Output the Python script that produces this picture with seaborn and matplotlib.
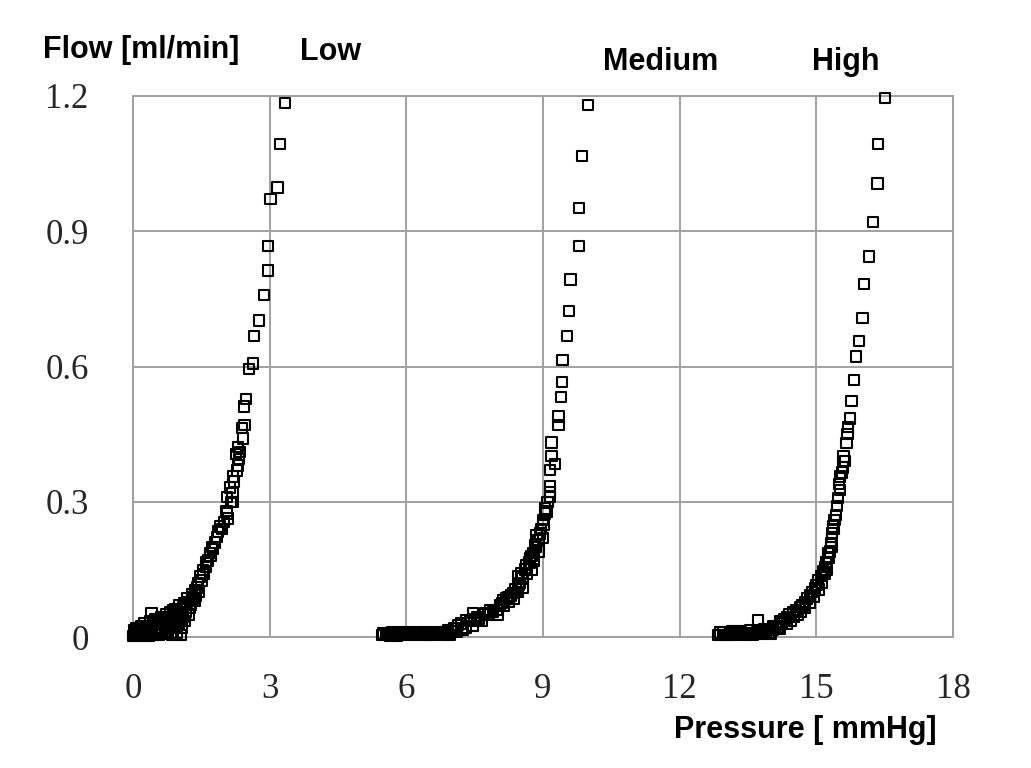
import matplotlib
matplotlib.use("Agg")
import matplotlib.pyplot as plt
import seaborn as sns
import pandas as pd

# ---- data ----
low_x = [0.02, 0.05, 0.08, 0.12, 0.15, 0.18, 0.22, 0.25, 0.28, 0.32, 0.35, 0.38, 0.42, 0.45,
         0.48, 0.52, 0.55, 0.58, 0.62, 0.65, 0.68, 0.72, 0.75, 0.78, 0.82, 0.85, 0.88, 0.92,
         0.95, 0.98, 1.02, 1.05, 1.08, 1.12, 1.15, 1.20, 1.25, 1.30, 1.35, 1.40, 1.45, 1.50,
         1.55, 1.60, 1.65, 1.70, 1.75, 1.80, 1.95, 2.00, 2.05, 2.15, 2.18, 2.22, 2.30, 2.33,
         2.42, 2.45, 0.41, 0.88, 1.10, 1.18, 1.29, 1.36, 1.43, 1.47, 1.54, 1.60, 1.69, 1.73,
         1.84, 1.87, 1.91, 2.09, 2.06, 2.20, 2.07, 2.13, 2.20, 2.28, 2.26, 2.35, 2.31, 2.39,
         2.44, 2.48, 2.55, 2.63, 2.66, 2.77, 2.88, 2.96, 2.96, 3.02, 3.17, 3.23, 3.34,
         0.00, 0.03, 0.06, 0.10, 0.14, 0.17, 0.20, 0.24, 0.27, 0.30, 0.34, 0.37, 0.40, 0.44,
         0.47, 0.50, 0.54, 0.57, 0.60, 0.64, 0.67, 0.70, 0.74, 0.77, 0.80, 0.84, 0.87, 0.90,
         0.94, 0.97, 1.00, 1.04, 1.07, 1.10, 1.14, 1.17, 1.22, 1.27, 1.32, 1.38]
low_y = [0.005, 0.012, 0.020, 0.008, 0.015, 0.025, 0.010, 0.030, 0.018, 0.005, 0.022, 0.035,
         0.012, 0.028, 0.040, 0.020, 0.008, 0.032, 0.045, 0.015, 0.030, 0.050, 0.020, 0.038,
         0.055, 0.010, 0.042, 0.062, 0.025, 0.050, 0.070, 0.005, 0.040, 0.075, 0.055, 0.085,
         0.065, 0.095, 0.080, 0.110, 0.100, 0.125, 0.140, 0.155, 0.170, 0.180, 0.195, 0.210,
         0.240, 0.255, 0.280, 0.300, 0.320, 0.345, 0.380, 0.395, 0.440, 0.470, 0.053, 0.060,
         0.067, 0.078, 0.089, 0.104, 0.119, 0.134, 0.149, 0.167, 0.186, 0.200, 0.222, 0.234,
         0.245, 0.263, 0.274, 0.300, 0.310, 0.332, 0.356, 0.369, 0.406, 0.411, 0.422, 0.464,
         0.511, 0.528, 0.594, 0.607, 0.668, 0.702, 0.758, 0.813, 0.867, 0.972, 0.997, 1.094,
         1.184,
         0.002, 0.015, 0.004, 0.018, 0.003, 0.010, 0.020, 0.006, 0.012, 0.025, 0.003, 0.015,
         0.008, 0.035, 0.005, 0.012, 0.030, 0.004, 0.020, 0.010, 0.040, 0.006, 0.030, 0.012,
         0.025, 0.045, 0.004, 0.020, 0.035, 0.010, 0.030, 0.050, 0.020, 0.045, 0.035, 0.065,
         0.050, 0.072, 0.085, 0.092]

med_x = [5.47, 5.55, 5.65, 5.75, 5.85, 5.95, 6.05, 6.15, 6.25, 6.35, 6.45, 6.55, 6.65, 6.75,
         6.85, 7.00, 7.05, 7.20, 7.25, 7.40, 7.55, 7.60, 7.80, 7.90, 8.05, 8.10, 8.20, 8.30,
         8.40, 8.50, 8.55, 8.60, 8.70, 8.75, 8.85, 8.90, 8.95, 9.00, 9.05, 9.10, 6.92, 7.14,
         7.32, 7.47, 7.73, 7.98, 8.13, 8.24, 8.35, 8.46, 8.46, 8.53, 8.64, 8.71, 8.79, 8.82,
         8.86, 8.93, 9.01, 9.04, 9.08, 9.15, 9.15, 9.15, 9.15, 9.26, 9.19, 9.19, 9.34, 9.34,
         9.39, 9.42, 9.43, 9.53, 9.57, 9.60, 9.79, 9.79, 9.86, 9.99,
         5.50, 5.60, 5.70, 5.80, 5.90, 6.00, 6.10, 6.20, 6.30, 6.40, 6.50, 6.60, 6.70, 6.80,
         6.90, 6.95, 7.10, 7.30, 7.45, 7.50, 7.65, 7.70, 7.85, 8.00, 8.15, 8.25, 8.35, 8.45,
         8.55, 8.65, 8.75, 8.80, 8.90, 9.00]
med_y = [0.004, 0.009, 0.003, 0.008, 0.005, 0.010, 0.004, 0.008, 0.006, 0.010, 0.004, 0.009,
         0.006, 0.011, 0.005, 0.012, 0.020, 0.030, 0.015, 0.035, 0.045, 0.040, 0.050, 0.055,
         0.070, 0.075, 0.085, 0.092, 0.105, 0.120, 0.130, 0.150, 0.165, 0.180, 0.200, 0.215,
         0.240, 0.260, 0.285, 0.300, 0.016, 0.027, 0.038, 0.053, 0.053, 0.060, 0.082, 0.089,
         0.097, 0.115, 0.134, 0.141, 0.160, 0.175, 0.186, 0.204, 0.226, 0.230, 0.248, 0.274,
         0.278, 0.310, 0.322, 0.335, 0.370, 0.384, 0.402, 0.431, 0.470, 0.489, 0.532, 0.566,
         0.614, 0.668, 0.723, 0.793, 0.867, 0.952, 1.067, 1.180,
         0.008, 0.005, 0.010, 0.003, 0.009, 0.006, 0.011, 0.004, 0.007, 0.005, 0.010, 0.004,
         0.008, 0.010, 0.007, 0.004, 0.012, 0.020, 0.025, 0.040, 0.035, 0.050, 0.060, 0.050,
         0.070, 0.078, 0.085, 0.100, 0.110, 0.140, 0.150, 0.170, 0.190, 0.220]

high_x = [12.85, 12.95, 13.05, 13.15, 13.25, 13.35, 13.45, 13.55, 13.65, 13.75, 13.85, 13.95,
          14.10, 14.25, 14.30, 14.40, 14.55, 14.70, 14.80, 14.90, 15.00, 15.10, 15.20, 15.25,
          15.30, 15.35, 15.40, 15.45, 15.50, 15.56, 15.60, 15.68, 13.72, 14.05, 14.20, 14.35,
          14.49, 14.64, 14.75, 14.86, 14.97, 15.04, 15.15, 15.21, 15.26, 15.32, 15.34, 15.37,
          15.43, 15.48, 15.52, 15.52, 15.59, 15.63, 15.66, 15.70, 15.74, 15.77, 15.83, 15.87,
          15.94, 16.01, 16.04, 16.15, 16.24, 16.34, 16.36, 16.51,
          12.90, 13.00, 13.10, 13.20, 13.30, 13.40, 13.50, 13.60, 13.70, 13.80, 13.90, 14.00,
          14.05, 14.15, 14.20, 14.35, 14.45, 14.50, 14.60, 14.65, 14.75, 14.85, 14.95, 15.05,
          15.12, 15.18, 15.22, 15.28, 15.33, 15.38]
high_y = [0.004, 0.010, 0.005, 0.012, 0.006, 0.010, 0.004, 0.015, 0.008, 0.012, 0.018, 0.010,
          0.025, 0.030, 0.040, 0.050, 0.060, 0.070, 0.085, 0.100, 0.115, 0.135, 0.155, 0.175,
          0.190, 0.230, 0.260, 0.290, 0.340, 0.365, 0.400, 0.450, 0.038, 0.023, 0.034, 0.045,
          0.056, 0.067, 0.078, 0.093, 0.108, 0.126, 0.145, 0.167, 0.186, 0.208, 0.222, 0.245,
          0.271, 0.308, 0.326, 0.356, 0.376, 0.391, 0.430, 0.466, 0.485, 0.524, 0.570, 0.622,
          0.657, 0.707, 0.783, 0.844, 0.920, 1.006, 1.094, 1.195,
          0.010, 0.004, 0.009, 0.005, 0.012, 0.006, 0.008, 0.005, 0.010, 0.006, 0.012, 0.008,
          0.015, 0.020, 0.018, 0.030, 0.035, 0.045, 0.050, 0.055, 0.065, 0.075, 0.090, 0.105,
          0.120, 0.140, 0.150, 0.175, 0.200, 0.240]

x_ticks = [0, 3, 6, 9, 12, 15, 18]
y_ticks = [0, 0.3, 0.6, 0.9, 1.2]
y_tick_labels = ["0", "0.3", "0.6", "0.9", "1.2"]
series_labels = ["Low", "Medium", "High"]
y_title = "Flow [ml/min]"
x_title = "Pressure [ mmHg]"

df = pd.DataFrame({
    "pressure": low_x + med_x + high_x,
    "flow": low_y + med_y + high_y,
    "level": ["Low"] * len(low_x) + ["Medium"] * len(med_x) + ["High"] * len(high_x),
})

sns.set_style("white")
fig = plt.figure(figsize=(10.31, 7.68), dpi=100)
ax = fig.add_axes([133 / 1031, 1 - 637 / 768, (953 - 133) / 1031, (637 - 96) / 768])

grid_c = "#a0a0a0"
sns.scatterplot(data=df, x="pressure", y="flow", ax=ax, marker="s", s=56,
                facecolors="none", edgecolors="black", linewidth=1.5, legend=False,
                clip_on=False, zorder=3)

ax.set_xlim(0, 18)
ax.set_ylim(0, 1.2)
ax.set_xticks(x_ticks)
ax.set_yticks(y_ticks)
ax.set_yticklabels(y_tick_labels)
ax.grid(True, color=grid_c, linewidth=1.4)
ax.set_axisbelow(True)
for sp in ax.spines.values():
    sp.set_color(grid_c)
    sp.set_linewidth(1.4)
ax.tick_params(axis="both", direction="out", length=6, width=1.2, color=grid_c,
               labelsize=25)
ax.tick_params(axis="y", pad=26)
ax.tick_params(axis="x", pad=20)
for lab in ax.get_xticklabels() + ax.get_yticklabels():
    lab.set_family("Liberation Serif")
ax.set_xlabel("")
ax.set_ylabel("")

tf = dict(family="Liberation Sans", fontweight="bold", fontsize=22, color="black")
fig.text(43 / 1031, 1 - 50 / 768, y_title, ha="left", va="center", **tf)
fig.text(300 / 1031, 1 - 52 / 768, series_labels[0], ha="left", va="center", **tf)
fig.text(603 / 1031, 1 - 62 / 768, series_labels[1], ha="left", va="center", **tf)
fig.text(812 / 1031, 1 - 62 / 768, series_labels[2], ha="left", va="center", **tf)
fig.text(937 / 1031, 1 - 730 / 768, x_title, ha="right", va="center", **tf)

fig.savefig("out.png", dpi=100, facecolor="white")
